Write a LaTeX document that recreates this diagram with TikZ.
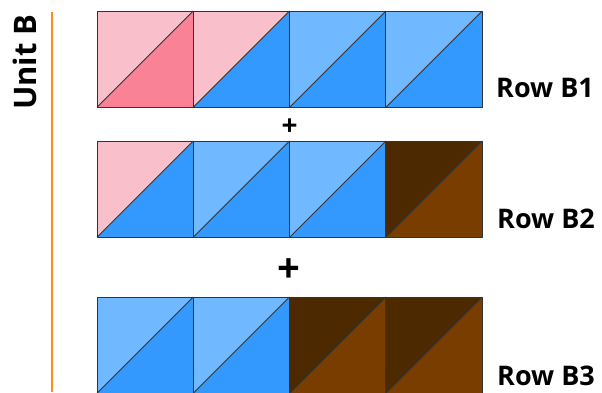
\documentclass[tikz,border=0pt]{standalone}
\usepackage{fontspec}
\setmainfont{Open Sans}
\definecolor{qpinkL}{RGB}{249,192,203}
\definecolor{qpinkD}{RGB}{249,130,150}
\definecolor{qblueL}{RGB}{112,184,255}
\definecolor{qblue}{RGB}{51,153,255}
\definecolor{qbrownD}{RGB}{77,41,0}
\definecolor{qbrown}{RGB}{122,61,0}
\definecolor{qorange}{RGB}{255,140,26}
\usetikzlibrary{positioning}

% half-square triangle: x, y (top left), upper colour, lower colour
\newcommand{\hst}[4]{%
  \fill[#3] (#1,#2) -- ++(96.3,0) -- ++(-96.3,96.3) -- cycle;
  \fill[#4] (#1,#2) ++(96.3,0) -- ++(0,96.3) -- ++(-96.3,0) -- cycle;
  \draw[seam] (#1,#2) rectangle ++(96.3,96.3);
  \draw[seam] (#1,#2) ++(0,96.3) -- ++(96.3,-96.3);
}

\begin{document}
\begin{tikzpicture}[x=1pt,y=-1pt,
    seam/.style={draw=black!80,line width=0.9pt,line join=round},
    rowlabel/.style={font=\fontsize{27}{30}\selectfont\bfseries,anchor=west,inner sep=0pt},
    plus/.style={inner sep=0pt}]
  \useasboundingbox (0,0) rectangle (602,392);
  % unit label and bar
  \node[font=\fontsize{31}{34}\selectfont\bfseries,rotate=90,inner sep=0pt] (unit) at (25,62) {Unit B};
  \draw[qorange,line width=2pt] (52,12) -- (52,392);
  % row B1
  \foreach \i/\ca/\cb in {0/qpinkL/qpinkD,1/qpinkL/qblue,2/qblueL/qblue,3/qblueL/qblue}
    {\hst{97+\i*96.3}{11}{\ca}{\cb}}
  % row B2
  \foreach \i/\ca/\cb in {0/qpinkL/qblue,1/qblueL/qblue,2/qblueL/qblue,3/qbrownD/qbrown}
    {\hst{97+\i*96.3}{141}{\ca}{\cb}}
  % row B3
  \foreach \i/\ca/\cb in {0/qblueL/qblue,1/qblueL/qblue,2/qbrownD/qbrown,3/qbrownD/qbrown}
    {\hst{97+\i*96.3}{297}{\ca}{\cb}}
  \node[rowlabel] (rowB1) at (496,88) {Row B1};
  \node[rowlabel] (rowB2) at (497,219) {Row B2};
  \node[rowlabel] (rowB3) at (497,376) {Row B3};
  \node[plus,font=\fontsize{28}{30}\selectfont\bfseries] (plusA) at (289.5,127) {+};
  \node[plus,font=\fontsize{40}{42}\selectfont\bfseries] (plusB) at (289,271) {+};
\end{tikzpicture}
\end{document}
